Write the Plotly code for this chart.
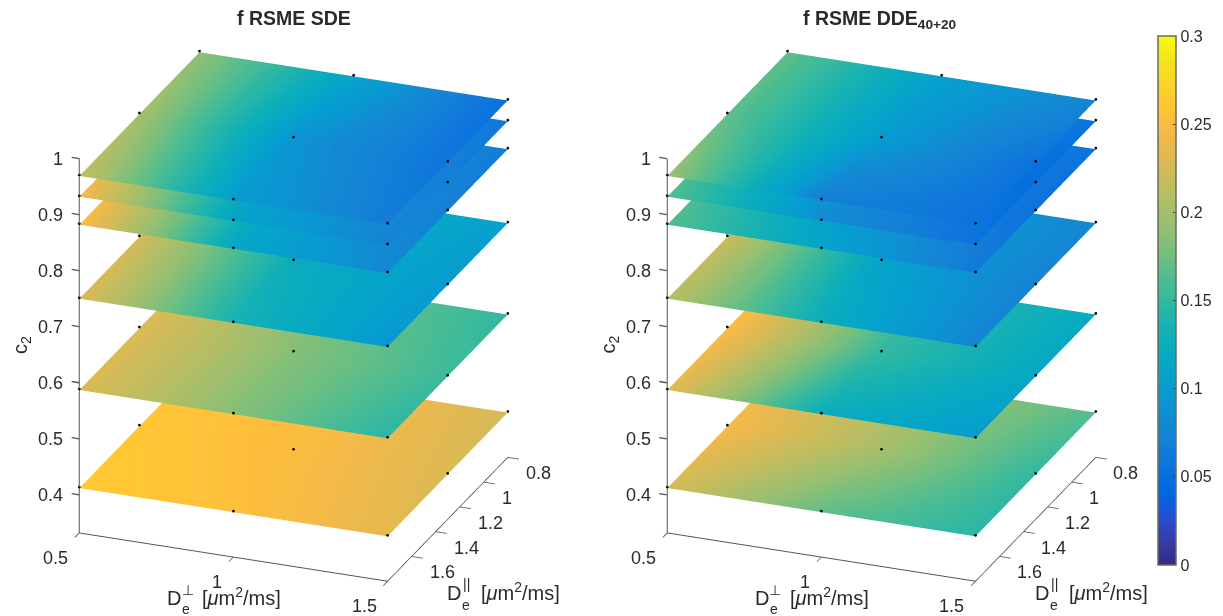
import plotly.graph_objects as go

x_vals = [0.5, 1.0, 1.5]
y_vals = [0.8, 1.3, 1.8]
c2_vals = [0.412, 0.587, 0.75, 0.882, 0.932, 0.969]

# colour values per plane: rows follow y_vals, columns follow x_vals
sde_041 = [[.256, .250, .225], [.260, .250, .230], [.263, .254, .235]]
sde_059 = [[.230, .175, .150], [.230, .185, .155], [.230, .185, .145]]
sde_075 = [[.220, .125, .105], [.225, .125, .100], [.230, .135, .095]]
sde_088 = [[.220, .120, .065], [.235, .110, .070], [.250, .115, .080]]
sde_093 = [[.210, .120, .060], [.225, .105, .070], [.245, .110, .075]]
sde_097 = [[.190, .110, .052], [.200, .092, .058], [.215, .102, .066]]

dde_041 = [[.245, .200, .165], [.245, .200, .150], [.225, .170, .145]]
dde_059 = [[.250, .150, .120], [.250, .150, .115], [.235, .125, .100]]
dde_075 = [[.200, .100, .080], [.220, .110, .075], [.210, .125, .075]]
dde_088 = [[.150, .100, .055], [.160, .090, .055], [.165, .110, .065]]
dde_093 = [[.150, .100, .055], [.150, .080, .050], [.165, .085, .055]]
dde_097 = [[.170, .105, .078], [.170, .100, .056], [.195, .070, .056]]

sde_planes = [sde_041, sde_059, sde_075, sde_088, sde_093, sde_097]
dde_planes = [dde_041, dde_059, dde_075, dde_088, dde_093, dde_097]

x_ticks = [0.5, 1, 1.5]
y_ticks = [0.8, 1, 1.2, 1.4, 1.6]
z_ticks = [0.4, 0.5, 0.6, 0.7, 0.8, 0.9, 1]
cbar_ticks = [0, 0.05, 0.1, 0.15, 0.2, 0.25, 0.3]

parula = [
 [0.2081,0.1663,0.5292],[0.2116,0.1898,0.5777],[0.2123,0.2138,0.6270],[0.2081,0.2386,0.6771],
 [0.1959,0.2645,0.7279],[0.1707,0.2919,0.7792],[0.1253,0.3242,0.8303],[0.0591,0.3598,0.8683],
 [0.0117,0.3875,0.8820],[0.0060,0.4086,0.8828],[0.0165,0.4266,0.8786],[0.0329,0.4430,0.8720],
 [0.0498,0.4586,0.8641],[0.0629,0.4737,0.8554],[0.0723,0.4887,0.8467],[0.0779,0.5040,0.8384],
 [0.0793,0.5200,0.8312],[0.0749,0.5375,0.8263],[0.0641,0.5570,0.8240],[0.0488,0.5772,0.8228],
 [0.0343,0.5966,0.8199],[0.0265,0.6137,0.8135],[0.0239,0.6287,0.8038],[0.0231,0.6418,0.7913],
 [0.0228,0.6535,0.7768],[0.0267,0.6642,0.7607],[0.0384,0.6743,0.7436],[0.0590,0.6838,0.7254],
 [0.0843,0.6928,0.7062],[0.1133,0.7015,0.6859],[0.1453,0.7098,0.6646],[0.1801,0.7177,0.6424],
 [0.2178,0.7250,0.6193],[0.2586,0.7317,0.5954],[0.3022,0.7376,0.5712],[0.3482,0.7424,0.5473],
 [0.3953,0.7459,0.5244],[0.4420,0.7481,0.5033],[0.4871,0.7491,0.4840],[0.5300,0.7491,0.4661],
 [0.5709,0.7485,0.4494],[0.6099,0.7473,0.4337],[0.6473,0.7456,0.4188],[0.6834,0.7435,0.4044],
 [0.7184,0.7411,0.3905],[0.7525,0.7384,0.3768],[0.7858,0.7356,0.3633],[0.8185,0.7327,0.3498],
 [0.8507,0.7299,0.3360],[0.8824,0.7274,0.3217],[0.9139,0.7258,0.3063],[0.9450,0.7261,0.2886],
 [0.9739,0.7314,0.2666],[0.9938,0.7455,0.2403],[0.9990,0.7653,0.2164],[0.9955,0.7861,0.1967],
 [0.9880,0.8066,0.1794],[0.9789,0.8271,0.1633],[0.9697,0.8481,0.1475],[0.9626,0.8705,0.1309],
 [0.9589,0.8949,0.1132],[0.9598,0.9218,0.0948],[0.9661,0.9514,0.0755],[0.9763,0.9831,0.0538]]
colorscale = [[i / 63, f"rgb({r*255:.0f},{g*255:.0f},{b*255:.0f})"] for i, (r, g, b) in enumerate(parula)]

W, H = 1223, 616
FONT = "Liberation Sans"
INK = "#2a2a2a"
AX = "#555555"
DOT_LIFT = 0.002
EYE = 1.857
ZOOM = 1.0745

fig = go.Figure()
for sid, planes, show in (("scene", sde_planes, False), ("scene2", dde_planes, True)):
    for i, (c2, vals) in enumerate(zip(c2_vals, planes)):
        fig.add_trace(go.Surface(
            x=x_vals, y=y_vals, z=[[c2] * 3 for _ in y_vals], surfacecolor=vals,
            cmin=0, cmax=0.3, colorscale=colorscale, scene=sid,
            showscale=show and i == 0,
            lighting=dict(ambient=1, diffuse=0, specular=0, fresnel=0, roughness=1),
            colorbar=dict(x=1158.3 / W, xanchor="left", xpad=0, ypad=0, thickness=18.4,
                          len=529 / H, lenmode="fraction", y=1 - 300.5 / H, yanchor="middle",
                          tickvals=cbar_ticks, ticktext=[f"{t:g}" for t in cbar_ticks],
                          ticks="inside", ticklen=3, tickcolor="#444", outlinecolor="#6b6b5a",
                          outlinewidth=1.5, tickfont=dict(family=FONT, size=16, color=INK)),
        ))
        fig.add_trace(go.Scatter3d(
            x=[a for _ in y_vals for a in x_vals], y=[b for b in y_vals for _ in x_vals],
            z=[c2 + DOT_LIFT] * 9, mode="markers", scene=sid, showlegend=False,
            marker=dict(size=1.6, color="black"),
        ))

axis_style = dict(showgrid=False, zeroline=False, showbackground=False, showline=True,
                  linecolor=AX, linewidth=2, ticks="outside", ticklen=12, tickcolor=AX,
                  tickwidth=2, showticklabels=False, title=dict(text=""), showspikes=False)
TICK_FONT = dict(family=FONT, size=18, color=INK)


def tick_notes():
    notes = []
    for t in x_ticks:
        notes.append(dict(x=t, y=1.8, z=0.332, text=f"{t:g}", showarrow=False, xanchor="right",
                          yanchor="middle", xshift=-9, yshift=-25, font=TICK_FONT))
    for t in y_ticks:
        notes.append(dict(x=1.5, y=t, z=0.332, text=f"{t:g}", showarrow=False, xanchor="left",
                          yanchor="middle", xshift=16, yshift=-16, font=TICK_FONT))
    for t in z_ticks:
        notes.append(dict(x=0.5, y=1.8, z=t, text=f"{t:g}", showarrow=False, xanchor="right",
                          yanchor="middle", xshift=-14, yshift=0, font=TICK_FONT))
        notes.append(dict(x=0.5, y=1.8, z=t, text=" ", showarrow=True, ax=-9, ay=-1.5, arrowhead=0,
                          arrowwidth=1.3, arrowcolor=AX, standoff=0, font=dict(size=1)))
    return notes


def scene(x0, x1):
    return dict(
        domain=dict(x=[x0 / W, x1 / W], y=[0, 1]),
        xaxis=dict(range=[0.5, 1.5], tickvals=x_ticks, **axis_style),
        yaxis=dict(range=[1.8, 0.8], tickvals=y_ticks, **axis_style),
        zaxis=dict(range=[0.332, 1], tickvals=z_ticks, **{**axis_style, "ticks": ""}),
        aspectmode="manual", aspectratio=dict(x=ZOOM, y=ZOOM, z=1.235 * ZOOM),
        camera=dict(projection=dict(type="orthographic"), up=dict(x=0, y=0, z=1),
                    center=dict(x=0, y=0, z=0), eye=dict(x=.3327 * EYE, y=-.8532 * EYE, z=.4016 * EYE)),
        annotations=tick_notes(),
    )


def paper(px, py, text, size=20, bold=False, angle=0, anchor="center"):
    return dict(xref="paper", yref="paper", x=px / W, y=1 - py / H, text=f"<b>{text}</b>" if bold else text,
                showarrow=False, textangle=angle, xanchor=anchor, yanchor="middle",
                font=dict(family=FONT, size=size, color=INK))


notes = [paper(293.5, 18, "f RSME SDE", size=19.5, bold=True),
         paper(880, 20, "f RSME DDE<sub>40+20</sub>", size=19.5, bold=True)]
for off in (0, 587.5):
    notes += [
        paper(21 + off, 345, "c<sub>2</sub>", angle=-90),
        paper(174 + off, 598, "D"),
        paper(186 + off, 609, "e", size=14),
        paper(188 + off, 590, "⊥", size=14),
        paper(200 + off, 596, "[<i>μ</i>m<sup>2</sup>/ms]", anchor="left"),
        paper(454 + off, 593, "D"),
        paper(466 + off, 605, "e", size=14),
        paper(466.7 + off, 584, "||", size=14),
        paper(479 + off, 591, "[<i>μ</i>m<sup>2</sup>/ms]", anchor="left"),
    ]

fig.update_layout(width=W, height=H, margin=dict(l=0, r=0, t=0, b=0), paper_bgcolor="white",
                  showlegend=False, scene=scene(0, 587), scene2=scene(587.5, 1174.5), annotations=notes,
                  font=dict(family=FONT))
fig.write_html("out.html", config={"displayModeBar": False}, post_script="document.body.style.margin='0';")
